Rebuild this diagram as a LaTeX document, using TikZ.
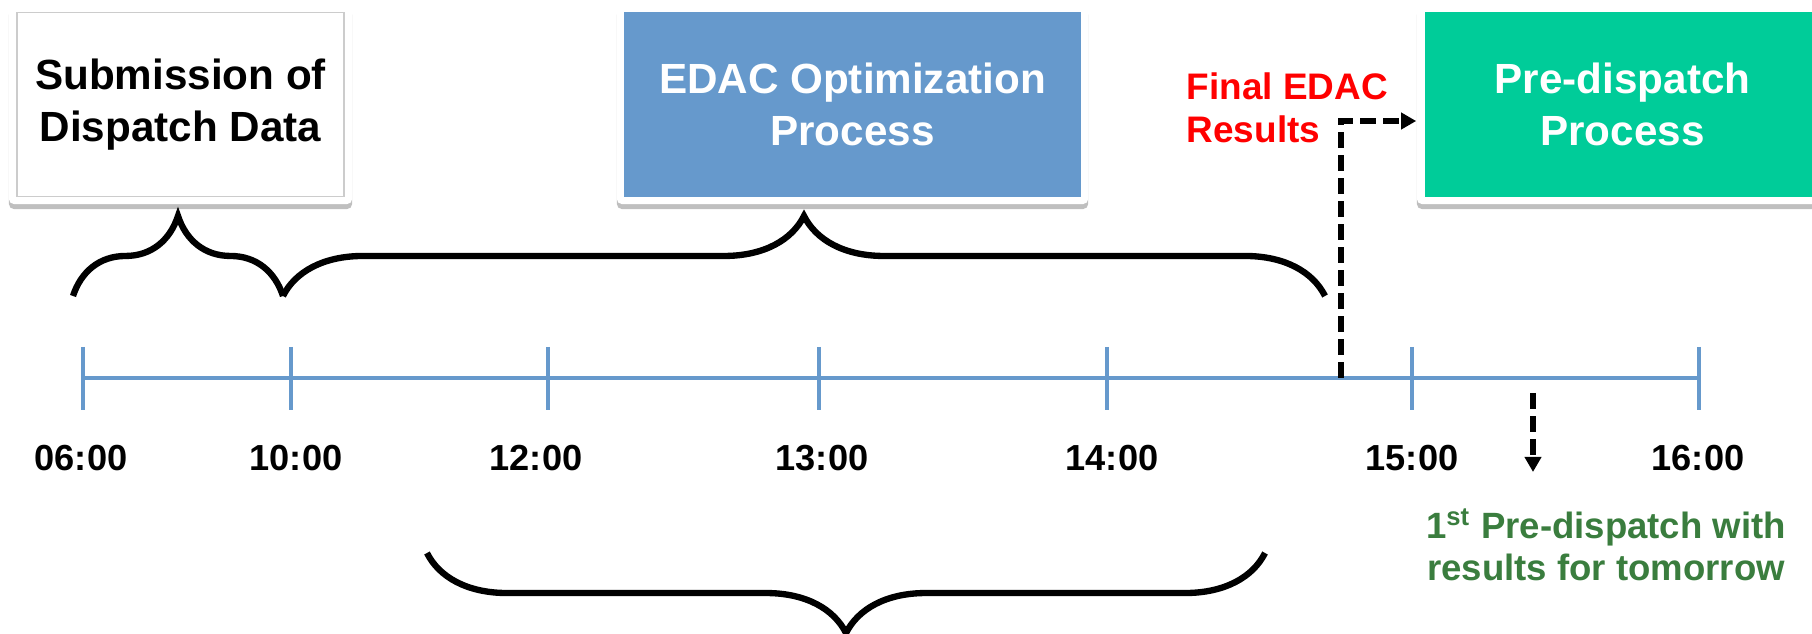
\documentclass[tikz,border=0pt]{standalone}
\usepackage{fontspec}
\setmainfont{Liberation Sans}
\usetikzlibrary{positioning,shadows,decorations.pathreplacing,arrows.meta}

\definecolor{edacblue}{RGB}{102,153,204}
\definecolor{predgreen}{RGB}{0,204,153}
\definecolor{notegreen}{RGB}{58,125,62}

\tikzset{
  frame/.style={fill=white, rounded corners=0.05cm, inner sep=0pt, minimum height=1.99cm,
    drop shadow={shadow xshift=0cm, shadow yshift=-0.05cm, opacity=0.25, fill=black}},
  panel/.style={inner sep=0pt, minimum height=1.84cm, align=center,
    font=\fontsize{12}{14.8}\selectfont\bfseries},
  curly/.style={decorate, decoration={brace, amplitude=0.8cm}, line width=1.8pt},
  curlydown/.style={decorate, decoration={brace, mirror, amplitude=0.8cm}, line width=1.8pt},
  hour/.style={anchor=base, inner sep=0pt, font=\fontsize{10.3}{12}\selectfont\bfseries},
  tick/.style={edacblue, line width=1.4pt},
  dashline/.style={dash pattern=on 0.16cm off 0.07cm, line width=1.5pt}
}

\begin{document}
\begin{tikzpicture}[x=0.01cm, y=-0.01cm, >={Triangle[length=0.15cm,width=0.16cm]}]
  \useasboundingbox (0,0) rectangle (1812,634);

  % boxes
  \node[frame, minimum width=3.43cm] (subfr)  at (180.5,104.5) {};
  \node[panel, minimum width=3.27cm, draw=black!20, fill=white] (sub) at (subfr) {Submission of\\Dispatch Data};
  \node[frame, minimum width=4.71cm] (edacfr) at (852.5,104.5) {};
  \node[panel, minimum width=4.56cm, fill=edacblue, text=white] (edac) at (edacfr) {EDAC Optimization\\Process};
  \node[frame, minimum width=4.11cm] (prefr)  at (1622.5,104.5) {};
  \node[panel, minimum width=3.95cm, fill=predgreen, text=white] (pre) at (prefr) {Pre-dispatch\\Process};

  % timeline
  \draw[tick] (83,378) -- (1699,378);
  \foreach \tx/\lx/\hr [count=\i] in {83/81/06:00, 291/296/10:00, 548/536/12:00, 819/822/13:00,
                                       1107/1112/14:00, 1412/1412/15:00, 1699/1698/16:00}{
    \draw[tick] (\tx,347) -- (\tx,410);
    \node[hour] (h\i) at (\lx,471) {\hr};
  }

  % braces
  \draw[curly] (73,296) -- (283,296);
  \draw[curly] (283,296) -- (1325,296);
  \draw[curlydown] (427,553) -- (1265,553);

  % results
  \node[anchor=north west, inner sep=0pt, align=left, text=red,
        font=\fontsize{10.5}{12.2}\selectfont\bfseries] (final) at (1186,72) {Final EDAC\\Results};
  \coordinate (fin) at (1341,378);
  \path[draw, dashline, ->] (fin) |- ([yshift=-0.165cm]prefr.west);

  \coordinate (first) at (1533,393);
  \coordinate (firsttip) at (1533,472);
  \node[anchor=north, inner sep=0pt, align=center, text=notegreen,
        font=\fontsize{10.4}{12}\selectfont\bfseries] (note) at (1606,508)
        {1\textsuperscript{st} Pre-dispatch with\\results for tomorrow};
  \path[draw, dashline, ->] (first) -- (firsttip);
\end{tikzpicture}
\end{document}
